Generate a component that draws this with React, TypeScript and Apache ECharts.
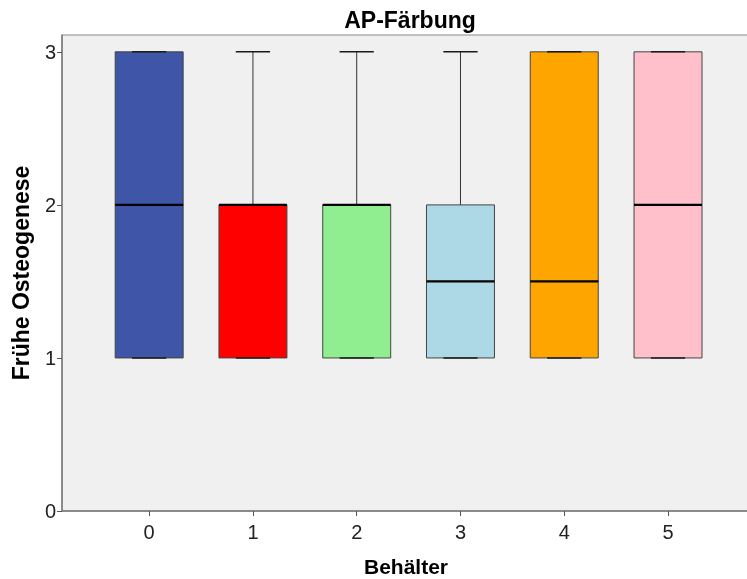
import { useEffect, useRef } from "react";
import * as echarts from "echarts";

const categories = [0, 1, 2, 3, 4, 5];
const mins = [1, 1, 1, 1, 1, 1];
const q1s = [1, 1, 1, 1, 1, 1];
const medians = [2, 2, 2, 1.5, 1.5, 2];
const q3s = [3, 2, 2, 2, 3, 3];
const maxs = [3, 3, 3, 3, 3, 3];
const boxColors = ["#3E55A8", "#FF0000", "#90EE90", "#ADD8E6", "#FFA500", "#FFC0CB"];
const yTicks = [0, 1, 2, 3];
const titleText = "AP-Färbung";
const xName = "Behälter";
const yName = "Frühe Osteogenese";

const FONT = "'Liberation Sans', Arial, sans-serif";

export default function App() {
  const ref = useRef<HTMLDivElement>(null);
  useEffect(() => {
    const chart = echarts.init(ref.current!, null, { renderer: "svg" });
    const data = categories.map((c, i) => [c, mins[i], q1s[i], medians[i], q3s[i], maxs[i]]);
    chart.setOption({
      animation: false,
      title: {
        text: titleText,
        left: 405,
        textAlign: "center",
        top: 3,
        textStyle: { fontFamily: FONT, fontSize: 23, fontWeight: "bold", color: "#000" },
      },
      grid: {
        left: 62,
        top: 35,
        right: -3,
        bottom: 68,
        outerBoundsMode: "none",
        containLabel: false,
        show: true,
        backgroundColor: "#F0F0F0",
        borderColor: "#8a8a8a",
        borderWidth: 1,
      },
      xAxis: {
        type: "value",
        min: -0.84,
        max: 5.79,
        name: xName,
        nameLocation: "middle",
        nameGap: 45,
        nameTextStyle: { fontFamily: FONT, fontSize: 21, fontWeight: "bold", color: "#000" },
        splitLine: { show: false },
        axisLine: { show: true, onZero: false, lineStyle: { color: "#7a7a7a", width: 1.5 } },
        axisTick: { show: true, length: 5, customValues: categories, lineStyle: { color: "#555" } },
        axisLabel: {
          customValues: categories,
          margin: 11,
          fontFamily: FONT,
          fontSize: 20,
          color: "#222",
        },
      },
      yAxis: {
        type: "value",
        min: 0,
        max: 3.11,
        name: yName,
        nameLocation: "middle",
        nameGap: 30,
        nameTextStyle: { fontFamily: FONT, fontSize: 23, fontWeight: "bold", color: "#000" },
        splitLine: { show: false },
        axisLine: { show: true, onZero: false, lineStyle: { color: "#7a7a7a", width: 1.5 } },
        axisTick: { show: true, length: 5, customValues: yTicks, lineStyle: { color: "#555" } },
        axisLabel: {
          customValues: yTicks,
          margin: 6,
          fontFamily: FONT,
          fontSize: 20,
          color: "#222",
        },
      },
      series: [
        {
          type: "custom",
          data,
          encode: { x: 0, y: [1, 2, 3, 4, 5] },
          renderItem: (params: any, api: any) => {
            const x = api.value(0);
            const [cx, yMin] = api.coord([x, api.value(1)]);
            const yQ1 = api.coord([x, api.value(2)])[1];
            const yMed = api.coord([x, api.value(3)])[1];
            const yQ3 = api.coord([x, api.value(4)])[1];
            const yMax = api.coord([x, api.value(5)])[1];
            const unit = api.size([1, 0])[0];
            const bw = unit * 0.655;
            const cw = unit * 0.33;
            const wStyle = { stroke: "#333", lineWidth: 1 };
            const capStyle = { stroke: "#1a1a1a", lineWidth: 1.5 };
            return {
              type: "group",
              children: [
                { type: "line", shape: { x1: cx, y1: yMax, x2: cx, y2: yQ3 }, style: wStyle },
                { type: "line", shape: { x1: cx, y1: yQ1, x2: cx, y2: yMin }, style: wStyle },
                {
                  type: "rect",
                  shape: { x: cx - bw / 2, y: yQ3, width: bw, height: yQ1 - yQ3 },
                  style: { fill: boxColors[params.dataIndex], stroke: "#444", lineWidth: 1 },
                },
                { type: "line", shape: { x1: cx - cw / 2, y1: yMax, x2: cx + cw / 2, y2: yMax }, style: capStyle },
                { type: "line", shape: { x1: cx - cw / 2, y1: yMin, x2: cx + cw / 2, y2: yMin }, style: capStyle },
                {
                  type: "line",
                  shape: { x1: cx - bw / 2, y1: yMed, x2: cx + bw / 2, y2: yMed },
                  style: { stroke: "#000", lineWidth: 2.2 },
                },
              ],
            };
          },
        },
      ],
    });
    return () => chart.dispose();
  }, []);
  return <div ref={ref} style={{ position: "fixed", left: 0, top: 0, width: 747, height: 579 }} />;
}
